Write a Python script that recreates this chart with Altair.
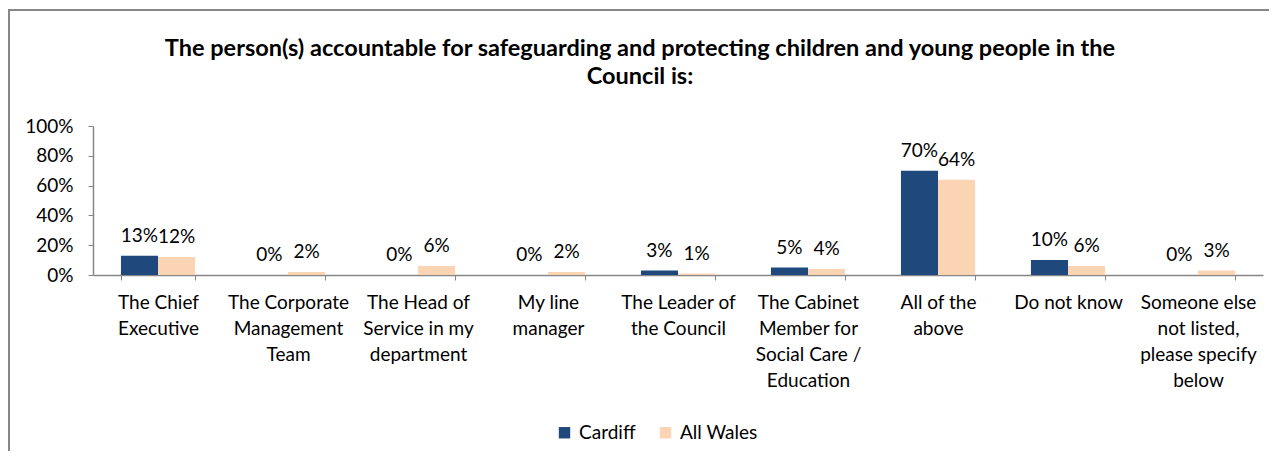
import altair as alt
import pandas as pd

categories = [
    "The Chief|Executive",
    "The Corporate|Management|Team",
    "The Head of|Service in my|department",
    "My line|manager",
    "The Leader of|the Council",
    "The Cabinet|Member for|Social Care /|Education",
    "All of the|above",
    "Do not know",
    "Someone else|not listed,|please specify|below",
]
series = ["Cardiff", "All Wales"]
cardiff = [13, 0, 0, 0, 3, 5, 70, 10, 0]
all_wales = [12, 2, 6, 2, 1, 4, 64, 6, 3]
colors = ["#1F497D", "#FBD4B4"]
y_ticks = [0, 0.2, 0.4, 0.6, 0.8, 1.0]

rows = []
for c, a, b in zip(categories, cardiff, all_wales):
    rows.append({"cat": c, "series": "Cardiff", "val": a / 100})
    rows.append({"cat": c, "series": "All Wales", "val": b / 100})
df = pd.DataFrame(rows)

FONT = "Lato"
W, H = 1170, 149

x_enc = alt.X(
    "cat:N",
    sort=categories,
    scale=alt.Scale(paddingInner=0.43, paddingOuter=0.215),
    axis=alt.Axis(
        title=None,
        labelExpr="split(datum.label, '|')",
        labelAngle=0,
        labelFont=FONT,
        labelFontSize=19,
        labelColor="#000000",
        labelLineHeight=26,
        labelPadding=13,
        labelLimit=300,
        tickBand="extent",
        tickSize=5,
        tickColor="#868686",
        domainColor="#868686",
        domainWidth=1.5,
        grid=False,
    ),
)
xoff = alt.XOffset("series:N", sort=series)
y_enc = alt.Y(
    "val:Q",
    scale=alt.Scale(domain=[0, 1]),
    axis=alt.Axis(
        title=None,
        values=y_ticks,
        format=".0%",
        labelFont=FONT,
        labelFontSize=19,
        labelColor="#000000",
        labelPadding=15,
        labelOverlap=False,
        labelBound=False,
        tickSize=5,
        tickColor="#868686",
        domainColor="#868686",
        domainWidth=1.5,
        grid=False,
    ),
)

bars = alt.Chart(df).mark_bar(stroke=None).encode(
    x=x_enc,
    xOffset=xoff,
    y=y_enc,
    color=alt.Color(
        "series:N",
        sort=series,
        scale=alt.Scale(domain=series, range=colors),
        legend=alt.Legend(
            title=None,
            orient="none",
            legendX=462,
            legendY=297,
            direction="horizontal",
            symbolType="square",
            symbolSize=130,
            symbolStrokeWidth=0,
            labelFont=FONT,
            labelFontSize=19,
            labelColor="#000000",
            columnPadding=20,
            labelOffset=5,
        ),
    ),
)

labels = alt.Chart(df).mark_text(
    baseline="alphabetic", dy=-14, font=FONT, fontSize=19, color="#000000"
).encode(
    x=x_enc,
    xOffset=xoff,
    y=y_enc,
    text=alt.Text("val:Q", format=".0%"),
)

border = alt.Chart(alt.Data(values=[{}])).mark_rect(
    filled=False, stroke="#878787", strokeWidth=2
).encode(
    x=alt.value(-84),
    x2=alt.value(1300),
    y=alt.value(-116),
    y2=alt.value(420),
)

chart = (
    alt.layer(border, bars, labels)
    .properties(
        width=W,
        height=H,
        autosize=alt.AutoSizeParams(type="none"),
        padding={"left": 85, "top": 118, "right": 6, "bottom": 176},
        title=alt.TitleParams(
            text=[
                "The person(s) accountable for safeguarding and protecting children and young people in the",
                "Council is:",
            ],
            font=FONT,
            fontSize=23.5,
            fontWeight="bold",
            color="#000000",
            anchor="middle",
            lineHeight=28,
            offset=-79,
            dx=-38,
        ),
    )
    .configure_view(stroke=None)
    .configure_axisY(labelOverlap=False, tickCount=6)
)

chart.save("out.html", embed_options={"renderer": "svg", "actions": False})
